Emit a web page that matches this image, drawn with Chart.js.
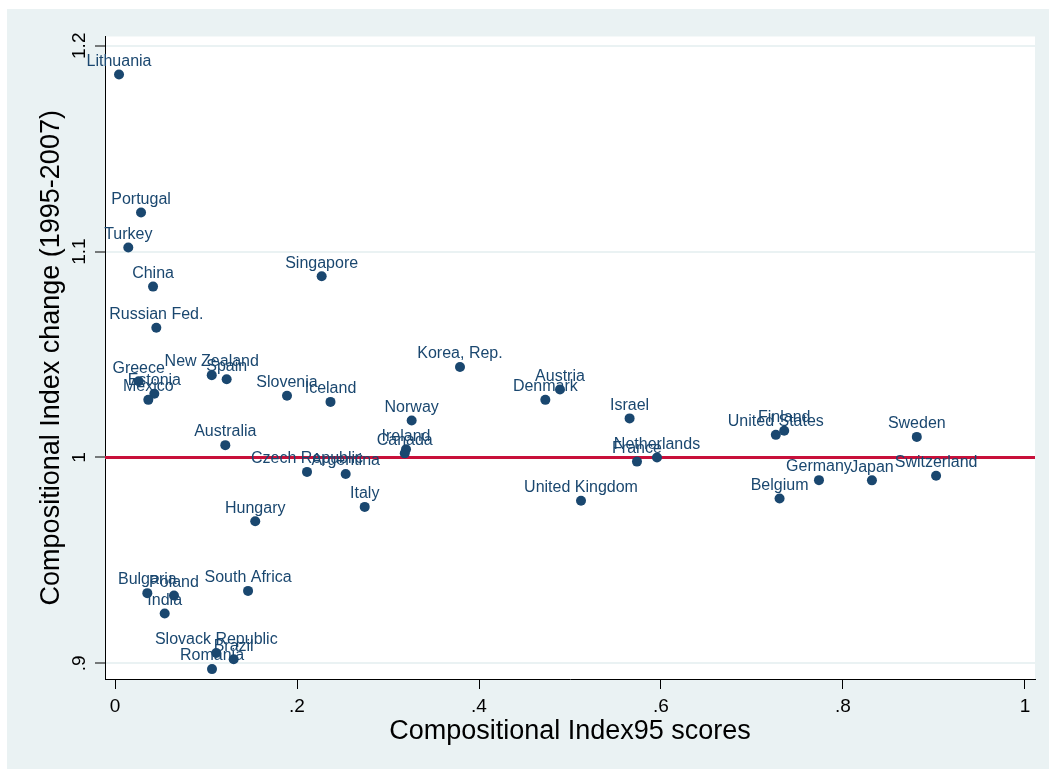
<!DOCTYPE html>
<html><head><meta charset="utf-8">
<script src="https://cdn.jsdelivr.net/npm/chart.js@4.4.0/dist/chart.umd.min.js"></script>
<style>html,body{margin:0;padding:0;background:#fff}canvas{display:block}</style>
</head><body>
<canvas id="c" width="1056" height="771"></canvas>
<script>
// ---- data ----
const countries = ["Lithuania","Portugal","Turkey","China","Singapore","Russian Fed.","Greece","Estonia","Mexico","New Zealand","Spain","Slovenia","Iceland","Australia","Czech Republic","Argentina","Korea, Rep.","Norway","Ireland","Canada","Denmark","Austria","Israel","France","Netherlands","United Kingdom","Italy","Hungary","United States","Finland","Sweden","Germany","Japan","Switzerland","Belgium","Bulgaria","Poland","India","South Africa","Slovack Republic","Brazil","Romania"];
const ciScores95 = [0.0044,0.0286,0.0146,0.0418,0.2271,0.0454,0.0260,0.0432,0.0366,0.1063,0.1227,0.1890,0.2368,0.1212,0.2110,0.2535,0.3791,0.3260,0.3198,0.3184,0.4729,0.4890,0.5655,0.5736,0.5956,0.5121,0.2744,0.1541,0.7262,0.7354,0.8811,0.7736,0.8318,0.9023,0.7303,0.0355,0.0648,0.0546,0.1462,0.1113,0.1304,0.1066];
const ciChange = [1.186,1.119,1.102,1.083,1.088,1.063,1.037,1.031,1.028,1.040,1.038,1.030,1.027,1.006,0.993,0.992,1.044,1.018,1.004,1.002,1.028,1.033,1.019,0.998,1.000,0.979,0.976,0.969,1.011,1.013,1.010,0.989,0.9889,0.9911,0.9801,0.9341,0.933,0.9242,0.9352,0.905,0.902,0.8972];
const xTicks = [0,0.2,0.4,0.6,0.8,1];
const xTickLabels = ["0",".2",".4",".6",".8","1"];
const yTicks = [0.9,1,1.1,1.2];
const yTickLabels = [".9","1","1.1","1.2"];
const refLineY = 1;
const xTitle = "Compositional Index95 scores";
const yTitle = "Compositional Index change (1995-2007)";

// ---- style / layout ----
const X_MIN = -0.011, X_MAX = 1.011, Y_MIN = 0.8924, Y_MAX = 1.2045;
const NAVY = "#1a476f", RED = "#c8103a", BG = "#eaf2f3";
const FONT = "'Liberation Sans', Arial, Helvetica, sans-serif";

const points = ciScores95.map((x, i) => ({x: x, y: ciChange[i]}));

const bgPlugin = {
  id: 'bg',
  beforeDraw(chart) {
    const ctx = chart.ctx, a = chart.chartArea;
    ctx.save();
    ctx.fillStyle = '#ffffff';
    ctx.fillRect(0, 0, chart.width, chart.height);
    ctx.fillStyle = BG;
    ctx.fillRect(7, 9, 1042, 760);
    ctx.fillStyle = '#ffffff';
    ctx.fillRect(a.left, a.top, a.right - a.left, a.bottom - a.top);
    ctx.restore();
  }
};

const labelPlugin = {
  id: 'mlabels',
  afterDatasetsDraw(chart) {
    const ctx = chart.ctx;
    const meta = chart.getDatasetMeta(0);
    ctx.save();
    ctx.font = "16px " + FONT;
    ctx.fillStyle = NAVY;
    ctx.textAlign = 'center';
    ctx.textBaseline = 'alphabetic';
    meta.data.forEach((el, i) => {
      ctx.fillText(countries[i], el.x, el.y - 8.7);
    });
    ctx.restore();
  }
};

new Chart(document.getElementById('c'), {
  data: {
    datasets: [
      {
        type: 'scatter',
        data: points,
        order: 0,
        backgroundColor: NAVY,
        borderWidth: 0,
        pointRadius: 5,
        pointHoverRadius: 5
      },
      {
        type: 'line',
        data: [{x: X_MIN, y: refLineY}, {x: X_MAX, y: refLineY}],
        order: 1,
        borderColor: RED,
        borderWidth: 3,
        pointRadius: 0,
        fill: false
      }
    ]
  },
  options: {
    responsive: false,
    animation: false,
    events: [],
    layout: {padding: {left: 0, top: 36.5, right: 21, bottom: 0}},
    plugins: {legend: {display: false}, tooltip: {enabled: false}},
    scales: {
      x: {
        type: 'linear',
        min: X_MIN, max: X_MAX,
        afterBuildTicks: s => { s.ticks = xTicks.map(v => ({value: v})); },
        afterFit: s => { s.height = 92; },
        grid: {display: true, drawOnChartArea: false, drawTicks: true, tickLength: 10, tickColor: '#000', tickWidth: 1},
        border: {display: true, color: '#000', width: 1},
        ticks: {
          color: '#000', font: {family: FONT, size: 19}, padding: 6.6,
          maxRotation: 0, minRotation: 0, autoSkip: false,
          callback: v => xTickLabels[xTicks.indexOf(v)]
        },
        title: {display: true, text: xTitle, color: '#000', font: {family: FONT, size: 27}, padding: {top: 0, bottom: 22.8}}
      },
      y: {
        type: 'linear',
        min: Y_MIN, max: Y_MAX,
        afterBuildTicks: s => { s.ticks = yTicks.map(v => ({value: v})); },
        afterFit: s => { s.width = 105; },
        grid: {display: true, drawOnChartArea: true, color: BG, lineWidth: 2, drawTicks: true, tickLength: 10, tickColor: '#000', tickWidth: 1},
        border: {display: true, color: '#000', width: 1},
        ticks: {
          color: '#000', font: {family: FONT, size: 19}, padding: 1.8,
          minRotation: 90, maxRotation: 90, crossAlign: 'center', autoSkip: false,
          callback: v => yTickLabels[yTicks.indexOf(v)]
        },
        title: {display: true, text: yTitle, color: '#000', font: {family: FONT, size: 27}, padding: {top: 35.8, bottom: 0}}
      }
    }
  },
  plugins: [bgPlugin, labelPlugin]
});
</script>
</body></html>
